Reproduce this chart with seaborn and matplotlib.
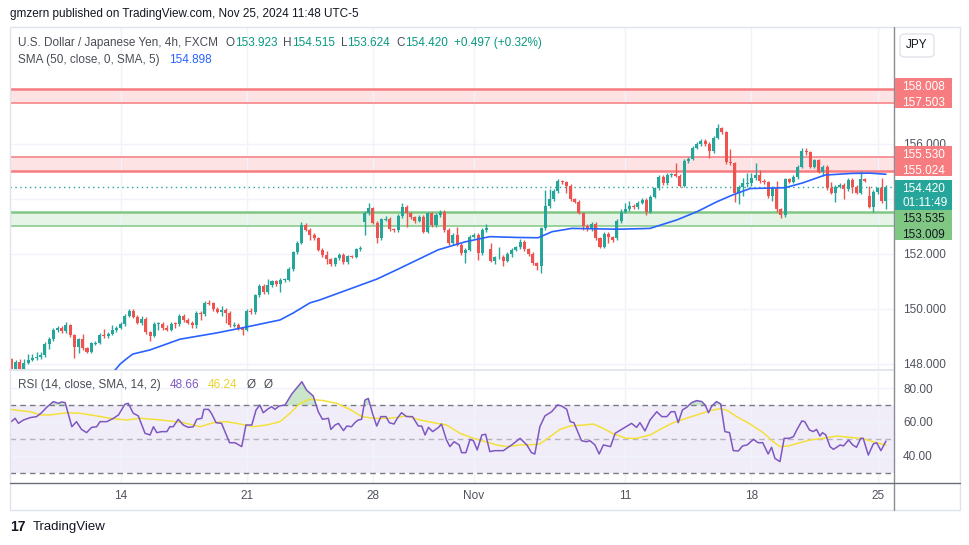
import numpy as np
import pandas as pd
import matplotlib
matplotlib.use("Agg")
import matplotlib.pyplot as plt
import seaborn as sns
from matplotlib.patches import Rectangle, FancyBboxPatch
from matplotlib.lines import Line2D

# --- 4h candles, USDJPY (FXCM) ---
closes = [
    147.82, 148.08, 147.82, 148.05, 148.15, 148.20, 148.25, 148.33, 148.73, 148.91,
    149.24, 149.32, 149.20, 149.40, 149.04, 148.60, 148.90, 148.57, 148.45, 148.75,
    148.77, 149.05, 149.00, 149.10, 149.23, 149.32, 149.45, 149.75, 149.94, 149.72,
    149.50, 149.65, 149.15, 149.03, 149.45, 149.47, 149.30, 149.25, 149.47, 149.45,
    149.75, 149.60, 149.50, 149.40, 149.85, 149.80, 150.22, 150.20, 150.00, 149.90,
    149.95, 149.85, 149.40, 149.42, 149.30, 149.25, 149.93, 149.88, 150.50, 150.85,
    150.60, 150.87, 151.00, 150.90, 151.05, 151.07, 151.45, 152.06, 152.41, 153.05,
    152.88, 152.70, 152.57, 152.15, 151.96, 151.80, 151.64, 151.84, 151.98, 151.70,
    151.92, 151.90, 152.17, 152.22, 153.48, 153.66, 153.14, 152.57, 153.26, 153.27,
    152.90, 152.87, 153.38, 153.72, 153.48, 153.33, 153.21, 153.36, 152.81, 153.48,
    153.05, 153.42, 153.54, 152.87, 152.39, 152.69, 152.34, 152.03, 152.15, 152.63,
    152.70, 152.03, 152.87, 152.93, 151.76, 151.88, 151.90, 151.76, 152.00, 152.15,
    152.24, 152.45, 152.17, 152.00, 151.66, 151.56, 152.93, 153.75, 153.99, 154.29,
    154.65, 154.60, 154.47, 153.99, 153.90, 153.50, 153.02, 152.90, 153.09, 152.57,
    152.27, 152.73, 152.60, 152.51, 153.20, 153.54, 153.62, 153.76, 153.70, 153.87,
    153.98, 153.54, 154.08, 154.39, 154.81, 154.57, 154.87, 154.90, 154.85, 154.49,
    155.38, 155.47, 155.87, 155.99, 156.11, 156.00, 155.75, 156.23, 156.57, 156.42,
    155.33, 155.30, 154.20, 154.45, 154.57, 154.58, 154.75, 154.87, 154.67, 154.60,
    154.10, 154.40, 153.62, 153.42, 154.72, 154.63, 154.80, 155.18, 155.76, 155.70,
    155.18, 155.40, 154.99, 155.18, 154.39, 154.23, 154.45, 154.51, 154.35, 154.69,
    154.45, 154.23, 154.72, 154.67, 153.72, 154.25, 154.39, 153.92, 154.42,
]
# opens follow the previous close except where the session gapped
gap_opens = {0: 148.18, 84: 153.18, 114: 152.17, 144: 152.58, 204: 154.10}

wick_up = [
    0.04, 0.06, 0.10, 0.13, 0.21, 0.18, 0.18, 0.10, 0.06, 0.06,
    0.08, 0.06, 0.06, 0.12, 0.06, 0.06, 0.06, 0.18, 0.06, 0.06,
    0.06, 0.06, 0.21, 0.06, 0.17, 0.06, 0.06, 0.06, 0.06, 0.06,
    0.06, 0.10, 0.06, 0.06, 0.06, 0.06, 0.06, 0.12, 0.06, 0.06,
    0.06, 0.06, 0.06, 0.06, 0.06, 0.06, 0.06, 0.10, 0.06, 0.06,
    0.15, 0.10, 0.06, 0.10, 0.06, 0.06, 0.06, 0.10, 0.06, 0.06,
    0.06, 0.22, 0.06, 0.06, 0.06, 0.06, 0.06, 0.06, 0.06, 0.10,
    0.06, 0.06, 0.06, 0.06, 0.06, 0.16, 0.06, 0.06, 0.06, 0.06,
    0.06, 0.06, 0.06, 0.06, 0.10, 0.18, 0.06, 0.06, 0.06, 0.10,
    0.06, 0.06, 0.06, 0.12, 0.06, 0.06, 0.06, 0.06, 0.06, 0.06,
    0.06, 0.06, 0.06, 0.06, 0.06, 0.06, 0.30, 0.06, 0.06, 0.06,
    0.06, 0.06, 0.06, 0.17, 0.24, 0.06, 0.35, 0.06, 0.06, 0.06,
    0.06, 0.08, 0.06, 0.06, 0.06, 0.06, 0.06, 0.58, 0.36, 0.06,
    0.06, 0.04, 0.06, 0.06, 0.06, 0.06, 0.04, 0.06, 0.08, 0.06,
    0.06, 0.06, 0.08, 0.06, 0.06, 0.09, 0.25, 0.17, 0.06, 0.06,
    0.06, 0.06, 0.06, 0.06, 0.08, 0.06, 0.06, 0.06, 0.40, 0.06,
    0.06, 0.06, 0.06, 0.10, 0.06, 0.06, 0.06, 0.06, 0.15, 0.06,
    0.06, 0.48, 0.06, 0.06, 0.20, 0.35, 0.20, 0.43, 0.20, 0.06,
    0.06, 0.06, 0.24, 0.06, 0.06, 0.06, 0.06, 0.06, 0.08, 0.08,
    0.06, 0.06, 0.06, 0.06, 0.06, 0.24, 0.06, 0.06, 0.06, 0.06,
    0.06, 0.06, 0.28, 0.06, 0.37, 0.06, 0.06, 0.36, 0.10,
]
wick_dn = [
    0.02, 0.06, 0.06, 0.06, 0.06, 0.06, 0.06, 0.06, 0.06, 0.20,
    0.06, 0.06, 0.06, 0.06, 0.06, 0.37, 0.21, 0.06, 0.06, 0.06,
    0.06, 0.06, 0.06, 0.06, 0.06, 0.06, 0.06, 0.06, 0.06, 0.06,
    0.06, 0.10, 0.06, 0.18, 0.06, 0.20, 0.06, 0.06, 0.06, 0.15,
    0.06, 0.06, 0.06, 0.10, 0.10, 0.20, 0.06, 0.06, 0.06, 0.06,
    0.15, 0.35, 0.06, 0.05, 0.06, 0.20, 0.06, 0.06, 0.06, 0.06,
    0.06, 0.06, 0.06, 0.06, 0.30, 0.06, 0.06, 0.06, 0.06, 0.06,
    0.06, 0.20, 0.06, 0.06, 0.06, 0.15, 0.06, 0.06, 0.06, 0.06,
    0.06, 0.06, 0.06, 0.06, 0.49, 0.06, 0.06, 0.16, 0.06, 0.06,
    0.06, 0.06, 0.06, 0.06, 0.49, 0.06, 0.10, 0.06, 0.06, 0.06,
    0.06, 0.06, 0.06, 0.06, 0.06, 0.06, 0.06, 0.06, 0.37, 0.06,
    0.06, 0.25, 0.06, 0.06, 0.05, 0.14, 0.06, 0.20, 0.06, 0.10,
    0.06, 0.06, 0.06, 0.06, 0.06, 0.16, 0.26, 0.06, 0.06, 0.06,
    0.06, 0.06, 0.24, 0.06, 0.06, 0.05, 0.15, 0.06, 0.06, 0.06,
    0.06, 0.06, 0.20, 0.06, 0.06, 0.06, 0.06, 0.06, 0.06, 0.06,
    0.06, 0.12, 0.06, 0.06, 0.06, 0.06, 0.06, 0.06, 0.06, 0.06,
    0.06, 0.06, 0.06, 0.06, 0.06, 0.06, 0.25, 0.06, 0.06, 0.06,
    0.06, 0.06, 0.32, 0.37, 0.35, 0.12, 0.10, 0.06, 0.10, 0.06,
    0.06, 0.18, 0.08, 0.12, 0.06, 0.06, 0.06, 0.06, 0.06, 0.10,
    0.06, 0.06, 0.06, 0.15, 0.06, 0.06, 0.33, 0.06, 0.36, 0.06,
    0.22, 0.06, 0.06, 0.06, 0.06, 0.20, 0.06, 0.06, 0.30,
]

# SMA(50) line, read at points along the curve (candle index, price)
sma_idx = [23.9, 24.7, 25.9, 27.5, 28.9, 33.0, 40.1, 48.9, 56.1, 63.9,
           67.0, 71.0, 73.4, 87.0, 92.0, 101.5, 107.9, 113.8, 120.5, 125.3,
           128.6, 133.3, 144.3, 151.9, 158.3, 163.1, 167.8, 171.6, 175.7, 184.0,
           188.1, 193.5, 199.9, 204.2, 208.0]
sma_val = [147.6, 147.78, 148.0, 148.2, 148.36, 148.51, 148.9, 149.13, 149.35, 149.6,
           149.85, 150.22, 150.33, 151.09, 151.45, 152.15, 152.44, 152.63, 152.60, 152.59,
           152.81, 152.93, 152.90, 152.93, 153.24, 153.54, 153.90, 154.15, 154.38, 154.41,
           154.58, 154.87, 154.93, 154.94, 154.90]

# RSI(14) and its SMA(14)
rsi_idx = [0.0, 0.9, 1.7, 2.9, 4.5, 6.0, 7.2, 8.4, 10.0, 11.2,
           12.0, 12.8, 14.4, 15.5, 16.7, 17.9, 19.1, 20.3, 21.1, 22.7,
           24.3, 25.5, 27.0, 27.8, 29.0, 30.2, 31.8, 33.0, 33.8, 34.6,
           35.8, 37.0, 37.7, 38.5, 39.7, 40.9, 42.1, 43.3, 44.1, 45.3,
           45.8, 46.9, 47.6, 48.7, 50.0, 51.9, 53.2, 54.8, 55.8, 57.2,
           58.2, 59.1, 59.9, 60.9, 61.9, 62.7, 63.7, 65.1, 66.7, 69.1,
           70.2, 71.8, 73.0, 74.0, 75.4, 76.0, 77.0, 77.8, 79.0, 79.8,
           80.9, 81.7, 82.5, 83.3, 84.1, 84.9, 85.9, 86.9, 87.9, 89.1,
           89.9, 91.0, 91.8, 92.8, 94.0, 95.4, 96.8, 97.6, 98.4, 99.2,
           100.2, 101.6, 102.3, 103.5, 104.3, 105.3, 106.5, 107.1, 108.1, 109.1,
           109.9, 110.8, 111.9, 112.8, 113.8, 115.0, 117.0, 119.0, 121.0, 122.6,
           123.7, 124.5, 125.7, 126.9, 128.5, 129.9, 130.9, 132.1, 132.9, 133.8,
           135.6, 136.8, 137.6, 138.8, 139.8, 140.8, 142.5, 143.6, 145.5, 147.5,
           148.7, 149.5, 150.7, 151.9, 153.5, 154.7, 155.9, 156.9, 157.8, 158.6,
           159.6, 160.6, 161.8, 163.0, 164.2, 165.0, 165.8, 166.6, 167.7, 168.7,
           169.7, 170.8, 171.7, 172.9, 173.9, 175.0, 176.5, 177.6, 178.7, 180.0,
           180.8, 181.6, 182.8, 183.8, 185.0, 186.0, 186.8, 188.0, 188.7, 189.8,
           190.7, 191.5, 192.3, 192.9, 193.7, 194.7, 195.5, 196.3, 197.1, 197.9,
           199.1, 200.1, 201.0, 202.0, 202.6, 203.8, 205.0, 205.8, 206.8, 208.0]
rsi_val = [60.2, 62.2, 59.2, 61.2, 62.6, 63.2, 65.5, 68.7, 72.1, 71.1,
           71.9, 71.5, 57.2, 60.2, 55.6, 53.7, 56.8, 57.2, 60.2, 60.2,
           62.2, 64.2, 70.5, 71.1, 65.2, 63.6, 53.3, 52.3, 57.2, 53.7,
           54.3, 54.3, 57.2, 57.2, 61.6, 58.2, 56.8, 57.2, 61.6, 62.2,
           67.5, 67.5, 65.1, 59.6, 59.2, 47.7, 47.7, 45.4, 58.2, 58.2,
           67.1, 70.1, 65.5, 67.5, 69.1, 67.5, 69.5, 70.1, 76.6, 83.9,
           79.0, 75.4, 66.1, 61.6, 62.2, 55.6, 58.2, 59.2, 54.9, 57.6,
           57.2, 59.6, 61.2, 61.6, 73.0, 74.0, 65.1, 57.6, 63.2, 63.2,
           59.6, 58.8, 62.2, 65.5, 63.2, 63.2, 57.6, 57.6, 52.3, 56.8,
           54.3, 56.8, 58.8, 49.3, 45.4, 48.3, 46.4, 41.8, 41.8, 49.7,
           48.9, 43.4, 52.3, 52.7, 42.4, 43.0, 43.0, 46.4, 50.3, 46.4,
           41.8, 41.0, 57.2, 63.6, 66.1, 70.1, 69.5, 67.5, 60.2, 59.6,
           48.9, 48.3, 48.9, 46.4, 41.0, 46.4, 45.4, 53.3, 56.2, 59.2,
           56.8, 59.6, 54.7, 61.2, 66.1, 63.2, 63.2, 66.1, 66.1, 59.6,
           67.1, 68.7, 71.5, 72.7, 72.1, 70.1, 65.5, 69.5, 72.1, 70.7,
           54.3, 53.7, 43.0, 42.8, 45.8, 46.4, 49.7, 47.7, 47.7, 41.0,
           45.0, 38.4, 36.5, 50.3, 50.3, 51.3, 55.3, 60.6, 60.2, 55.3,
           54.3, 55.6, 51.7, 53.7, 52.3, 45.4, 43.8, 45.0, 46.4, 45.8,
           49.3, 46.4, 45.0, 50.3, 50.3, 40.4, 47.0, 47.7, 43.0, 48.66]
rsima_idx = [0.0, 2.1, 4.5, 6.8, 9.2, 13.2, 16.3, 20.3, 23.5, 27.4,
             30.6, 33.8, 37.0, 40.9, 44.9, 48.0, 51.2, 54.4, 57.6, 60.7,
             63.9, 66.3, 68.7, 71.0, 74.2, 77.4, 80.5, 83.3, 86.1, 90.1,
             94.0, 97.2, 100.4, 103.5, 106.7, 109.9, 112.2, 115.4, 117.8, 121.0,
             123.3, 125.7, 128.1, 130.5, 132.9, 136.0, 138.4, 140.8, 143.2, 146.3,
             148.7, 151.9, 154.3, 157.4, 159.8, 163.0, 166.2, 168.5, 170.1, 172.5,
             175.7, 178.8, 181.2, 182.8, 184.8, 187.6, 189.9, 193.1, 196.3, 199.4,
             202.2, 205.0, 208.0]
rsima_val = [67.5, 66.7, 66.1, 64.2, 64.2, 65.5, 65.2, 63.6, 62.2, 61.2,
             62.2, 61.6, 60.8, 59.6, 57.2, 59.6, 60.2, 58.8, 57.2, 58.2,
             60.2, 65.2, 71.1, 73.5, 72.7, 71.1, 67.5, 63.2, 62.2, 62.2,
             63.6, 61.2, 59.6, 58.2, 53.3, 50.3, 48.7, 46.4, 45.4, 46.4,
             46.4, 47.0, 51.3, 55.6, 57.6, 58.2, 58.8, 56.2, 52.9, 50.3,
             50.3, 52.3, 55.6, 59.6, 61.6, 64.2, 66.7, 67.9, 67.1, 63.2,
             58.8, 53.7, 48.3, 45.4, 45.8, 47.7, 49.3, 50.3, 51.7, 50.9,
             50.3, 48.3, 46.24]

red_zones = [(157.503, 158.008), (155.024, 155.530)]
green_zone = (153.009, 153.535)
last_price = 154.420
countdown = "01:11:49"
legend_ohlc = [("O", 153.923), ("H", 154.515), ("L", 153.624), ("C", 154.420)]
change, change_pct = 0.497, 0.32
sma_last = 154.898
rsi_last, rsima_last = 48.66, 46.24

week_ticks = [26, 56, 86, 110, 146, 176, 206]
week_labels = ["14", "21", "28", "Nov", "11", "18", "25"]
price_ticks = [148, 150, 152, 154, 156, 158]
hidden_ticks = [154, 158]   # covered by the price tags on the scale
rsi_ticks = [40, 60, 80]

# --- build the OHLC table ---
opens = [gap_opens[i] if i in gap_opens else closes[i - 1] for i in range(len(closes))]
df = pd.DataFrame({"open": opens, "close": closes, "wu": wick_up, "wd": wick_dn})
df["idx"] = np.arange(len(df))
df["high"] = df[["open", "close"]].max(axis=1) + df["wu"]
df["low"] = df[["open", "close"]].min(axis=1) - df["wd"]
df["up"] = df["close"] >= df["open"]

UP, DOWN = "#26A69A", "#EF5350"
RED_LINE, RED_FILL = "#F77C80", "#FDE3E4"
GRN_LINE, GRN_FILL = "#81C784", "#E6F4E7"
GRID = "#F0F3FA"
TXT = "#131722"
AXT = "#50535E"

sns.set_theme(style="white")
plt.rcParams["font.family"] = ["Liberation Sans", "DejaVu Sans"]

W, H = 970, 545
fig = plt.figure(figsize=(W / 100, H / 100), dpi=100)


def fx(x):
    return x / W


def fy(y):
    return 1 - y / H


PX0, PX1 = 10, 894
ax = fig.add_axes([fx(PX0), fy(370), (PX1 - PX0) / W, (370 - 27) / H])
ax_r = fig.add_axes([fx(PX0), fy(482.7), (PX1 - PX0) / W, (482.7 - 372) / H])

x_lo, x_hi = (PX0 - 11.3) / 4.205, (PX1 - 11.3) / 4.205
for a in (ax, ax_r):
    a.set_xlim(x_lo, x_hi)
    a.set_facecolor("white")
    a.set_xticks(week_ticks)
    a.grid(True, color=GRID, lw=1)
    a.set_axisbelow(True)
    for s in a.spines.values():
        s.set_visible(False)

# --- price panel ---
ax.set_ylim(147.78, 160.255)
ax.yaxis.tick_right()
ax.set_yticks(price_ticks)
ax.set_yticklabels(["" if t in hidden_ticks else f"{t:.3f}" for t in price_ticks])
ax.tick_params(axis="y", length=0, pad=6.5, labelsize=8.5, labelcolor=AXT)
ax.tick_params(axis="x", length=0, labelbottom=False)
ax.spines["bottom"].set_visible(True)
ax.spines["bottom"].set_color("#E0E3EB")

for lo, hi in red_zones:
    ax.axhspan(lo, hi, color=RED_FILL, lw=0, zorder=0.5)
ax.axhspan(*green_zone, color=GRN_FILL, lw=0, zorder=0.5)
ax.axhline(red_zones[0][1], color=RED_LINE, lw=1.8, zorder=0.6)
ax.axhline(red_zones[0][0], color=RED_LINE, lw=1.1, zorder=0.6)
ax.axhline(red_zones[1][1], color=RED_LINE, lw=1.1, zorder=0.6)
ax.axhline(red_zones[1][0], color=RED_LINE, lw=1.8, zorder=0.6)
ax.axhline(green_zone[1], color=GRN_LINE, lw=1.8, zorder=0.6)
ax.axhline(green_zone[0], color=GRN_LINE, lw=1.1, zorder=0.6)

ax.axhline(last_price, color=UP, lw=1, ls=(0, (1, 2.5)), zorder=1)

colors = np.where(df["up"], UP, DOWN)
ax.vlines(df["idx"], df["low"], df["high"], colors=colors, lw=1, zorder=2)
body = (df["close"] - df["open"]).abs()
hgt = np.maximum(body, 0.035)
bottom = df[["open", "close"]].min(axis=1) - (hgt - body) / 2
ax.bar(df["idx"], hgt, bottom=bottom, width=0.72, color=colors, lw=0, zorder=2.1)

sns.lineplot(x=sma_idx, y=sma_val, ax=ax, color="#2962FF", lw=1.2,
             estimator=None, sort=False, legend=False, zorder=3)
ax.set_xlabel("")
ax.set_ylabel("")

# --- RSI panel ---
ax_r.set_ylim(23.98, 89.67)
ax_r.yaxis.tick_right()
ax_r.set_yticks(rsi_ticks)
ax_r.set_yticklabels([f"{t:.2f}" for t in rsi_ticks])
ax_r.tick_params(axis="y", length=0, pad=6.5, labelsize=8.5, labelcolor=AXT)
ax_r.set_xticklabels(week_labels)
ax_r.tick_params(axis="x", length=0, pad=5, labelsize=8.5, labelcolor=AXT)

ax_r.axhspan(30, 70, color="#7E57C2", alpha=0.1, lw=0, zorder=0.5)
ax_r.axhline(70, color="#787B86", lw=1, ls=(0, (4, 3)), zorder=1)
ax_r.axhline(30, color="#787B86", lw=1, ls=(0, (4, 3)), zorder=1)
ax_r.axhline(50, color="#787B86", lw=1, ls=(0, (4, 3)), alpha=0.5, zorder=1)
rx, ry = np.array(rsi_idx), np.array(rsi_val)
ax_r.fill_between(rx, 70, ry, where=ry > 70, interpolate=True,
                  color="#4CAF50", alpha=0.3, lw=0, zorder=1.5)
sns.lineplot(x=rsima_idx, y=rsima_val, ax=ax_r, color="#F4E03A", lw=1.1,
             estimator=None, sort=False, legend=False, zorder=2)
sns.lineplot(x=rsi_idx, y=rsi_val, ax=ax_r, color="#7E57C2", lw=1.1,
             estimator=None, sort=False, legend=False, zorder=3)
ax_r.set_xlabel("")
ax_r.set_ylabel("")

# --- frame and separators ---
fig.add_artist(Rectangle((fx(10), fy(510)), 950 / W, 483 / H, fill=False,
                         ec="#E0E3EB", lw=1, transform=fig.transFigure))
fig.add_artist(Line2D([fx(PX1)] * 2, [fy(27), fy(510)], color="#8A8D96", lw=1,
                      transform=fig.transFigure))
fig.add_artist(Line2D([fx(10), fx(960)], [fy(482.7)] * 2, color="#6A6D78", lw=1,
                      transform=fig.transFigure))

# --- right-side price labels ---
def tag(y0, y1, color, lines, tcolor):
    fig.add_artist(Rectangle((fx(895), fy(y1)), 57 / W, (y1 - y0) / H, color=color,
                             lw=0, transform=fig.transFigure, zorder=5))
    for yy, s in lines:
        fig.text(fx(902.5), fy(yy), s, color=tcolor, fontsize=8.5, va="center",
                 ha="left", zorder=6)


tag(78, 108, RED_LINE, [(87, f"{red_zones[0][1]:.3f}"), (102.5, f"{red_zones[0][0]:.3f}")], "white")
tag(146, 176, RED_LINE, [(155, f"{red_zones[1][1]:.3f}"), (170.5, f"{red_zones[1][0]:.3f}")], "white")
tag(180, 210, UP, [(188.5, f"{last_price:.3f}"), (203, countdown)], "white")
tag(210, 240, GRN_LINE, [(219.5, f"{green_zone[1]:.3f}"), (234.5, f"{green_zone[0]:.3f}")], TXT)

fig.add_artist(FancyBboxPatch((fx(900), fy(57)), 34 / W, 23 / H,
                              boxstyle="round,pad=0,rounding_size=0.006",
                              fc="white", ec="#E0E3EB", lw=1,
                              transform=fig.transFigure, zorder=5))
fig.text(fx(917), fy(45.5), "JPY", color=TXT, fontsize=8.5, ha="center", va="center", zorder=6)

# --- legends as coloured text runs ---
renderer = fig.canvas.get_renderer()


def runs(x, y, parts, size=8.5):
    for s, col, gap in parts:
        t = fig.text(fx(x), fy(y), s, color=col, fontsize=size, va="center", ha="left")
        x += t.get_window_extent(renderer).width + gap


VAL = "#089981"
head = [("U.S. Dollar / Japanese Yen, 4h, FXCM", "#4A4D57", 8)]
for k, v in legend_ohlc:
    head += [(k, "#4A4D57", 0), (f"{v:.3f}", VAL, 6)]
head += [(f"+{change:.3f} (+{change_pct:.2f}%)", VAL, 0)]
runs(18, 43, head)
runs(18, 60, [("SMA (50, close, 0, SMA, 5)", "#4A4D57", 9), (f"{sma_last:.3f}", "#2962FF", 0)])
runs(18, 385, [("RSI (14, close, SMA, 14, 2)", "#4A4D57", 9),
               (f"{rsi_last:.2f}", "#7E57C2", 8),
               (f"{rsima_last:.2f}", "#E8D430", 10),
               ("Ø", "#4A4D57", 8), ("Ø", "#4A4D57", 0)])

fig.text(fx(10), fy(13.5), "gmzern published on TradingView.com, Nov 25, 2024 11:48 UTC-5",
         color=TXT, fontsize=8.5, va="center", ha="left")
fig.text(fx(10), fy(527), "17", color=TXT, fontsize=10, fontweight="heavy",
         va="center", ha="left")
fig.text(fx(33), fy(527), "TradingView", color=TXT, fontsize=9.5, va="center", ha="left")

fig.savefig("out.png", dpi=100)
